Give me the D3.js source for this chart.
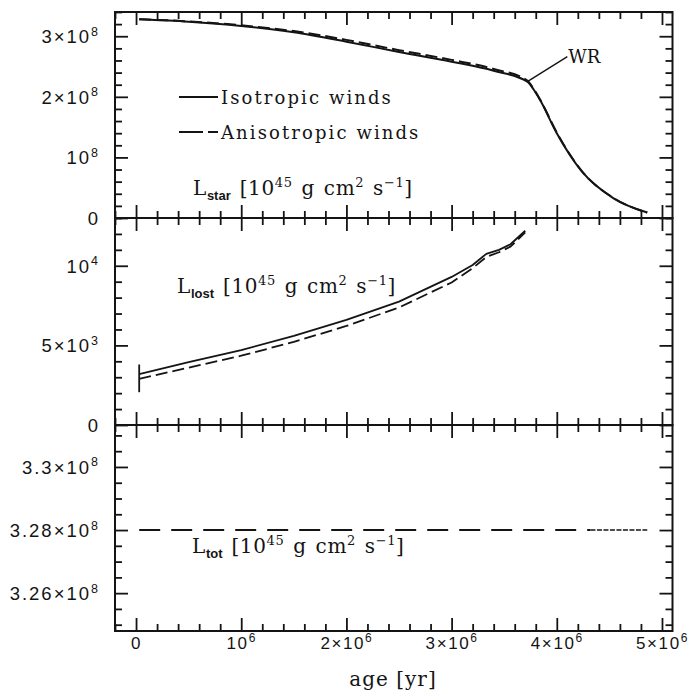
<!DOCTYPE html>
<html>
<head>
<meta charset="utf-8">
<script src="https://cdn.jsdelivr.net/npm/d3@7"></script>
<style>
body { margin: 0; background: #fff; }
</style>
</head>
<body>
<div id="chart"></div>
<script>
// ---- data (age in yr) ----
const starAge = [0.03e6, 0.5e6, 1.0e6, 1.5e6, 2.0e6, 2.5e6, 3.0e6, 3.4e6, 3.72e6, 3.78e6, 3.84e6, 4.0e6, 4.24e6, 4.54e6, 4.86e6];
const starIso = [3.28e8, 3.24e8, 3.17e8, 3.065e8, 2.91e8, 2.74e8, 2.58e8, 2.43e8, 2.25e8, 2.12e8, 1.95e8, 1.40e8, 0.765e8, 0.325e8, 0.09e8];
const starAniso = [3.28e8, 3.245e8, 3.18e8, 3.085e8, 2.94e8, 2.77e8, 2.61e8, 2.46e8, 2.27e8, 2.13e8, 1.96e8, 1.41e8, 0.77e8, 0.33e8, 0.09e8];

const lostAge = [0.03e6, 0.5e6, 1.0e6, 1.5e6, 2.0e6, 2.5e6, 3.0e6, 3.2e6, 3.33e6, 3.45e6, 3.56e6, 3.7e6];
const lostIso = [3.19e3, 3.95e3, 4.7e3, 5.6e3, 6.6e3, 7.75e3, 9.3e3, 10.05e3, 10.75e3, 11.0e3, 11.35e3, 12.2e3];
const lostAniso = [2.9e3, 3.6e3, 4.35e3, 5.22e3, 6.22e3, 7.38e3, 8.95e3, 9.85e3, 10.55e3, 10.85e3, 11.2e3, 12.1e3];
const lostSpikeAge = [0.03e6, 0.03e6];
const lostSpike = [3.8e3, 2.06e3];

const totAge = [0.03e6, 4.32e6];
const totTailAge = [4.32e6, 4.86e6];
const totValue = 3.28e8;

const wrPoint = [3.72e6, 2.25e8];

const xTicks = [0, 1e6, 2e6, 3e6, 4e6, 5e6];
const xTickLabels = ["0", "10^{6}", "2×10^{6}", "3×10^{6}", "4×10^{6}", "5×10^{6}"];
const topTicks = [0, 1e8, 2e8, 3e8];
const topTickLabels = ["0", "10^{8}", "2×10^{8}", "3×10^{8}"];
const midTicks = [0, 5e3, 1e4];
const midTickLabels = ["0", "5×10^{3}", "10^{4}"];
const botTicks = [3.26e8, 3.28e8, 3.3e8];
const botTickLabels = ["3.26×10^{8}", "3.28×10^{8}", "3.3×10^{8}"];

const seriesNames = ["Isotropic winds", "Anisotropic winds"];
const topLabel = "L_{star} [10^{45} g cm^{2} s^{−1}]";
const midLabel = "L_{lost} [10^{45} g cm^{2} s^{−1}]";
const botLabel = "L_{tot} [10^{45} g cm^{2} s^{−1}]";

// ---- layout ----
const width = 693, height = 694;
const left = 115, right = 672.5;
const ink = "#141414";
const serif = "DejaVu Serif";
const sans = "Liberation Sans";

const svg = d3.select("#chart").append("svg")
  .attr("width", width).attr("height", height)
  .attr("viewBox", [0, 0, width, height]);

const x = d3.scaleLinear().domain([-0.2e6, 5.1e6]).range([left, right]);
const xMinor = d3.range(-0.2e6, 5.1e6 + 1, 0.2e6);

const panels = [
  { top: 12, bottom: 218, y: d3.scaleLinear().domain([0, 3.4e8]).range([218, 12]),
    ticks: topTicks, labels: topTickLabels, minor: d3.range(0, 3.4e8 + 1, 0.2e8) },
  { top: 218, bottom: 425, y: d3.scaleLinear().domain([0, 1.3e4]).range([425, 218]),
    ticks: midTicks, labels: midTickLabels, minor: d3.range(0, 1.3e4 + 1, 1e3) },
  { top: 425, bottom: 631, y: d3.scaleLinear().domain([3.248e8, 3.3133e8]).range([631, 425]),
    ticks: botTicks, labels: botTickLabels, minor: d3.range(3.25e8, 3.3133e8, 0.005e8) }
];

// text with ^{sup} and _{sub}; o.base shifts the whole run vertically (px)
function rich(text, str, o) {
  const parts = str.split(/(\^\{[^}]*\}|_\{[^}]*\})/).filter(s => s.length);
  let cur = -(o.base || 0);
  text.text(null).attr("dy", null).style("white-space", "pre");
  parts.forEach(p => {
    let off = 0, t = p;
    const ts = text.append("tspan");
    if (p[0] === "^") {
      off = -o.rise; t = p.slice(2, -1);
      ts.attr("font-size", o.supSize);
    } else if (p[0] === "_") {
      off = o.drop; t = p.slice(2, -1);
      ts.attr("font-size", o.subSize).attr("font-family", sans).attr("font-weight", "bold")
        .attr("letter-spacing", 0);
    }
    ts.attr("dy", off - cur).text(t);
    cur = off;
  });
}

function styleAxis(g) {
  g.select(".domain").remove();
  g.selectAll(".tick line").attr("stroke", ink).attr("stroke-width", 1.8);
}

panels.forEach((p, i) => {
  const pg = svg.append("g");
  const yMinor = p.minor.filter(v => !p.ticks.some(t => Math.abs(t - v) < 1));
  const xMin = xMinor.filter(v => !xTicks.some(t => Math.abs(t - v) < 1));
  const isLast = i === panels.length - 1;

  // left, with labels
  pg.append("g").attr("transform", `translate(${left},0)`)
    .call(d3.axisLeft(p.y).tickValues(p.ticks).tickSize(-13).tickPadding(15).tickFormat((d, k) => p.labels[k]))
    .call(styleAxis)
    .call(a => a.selectAll(".tick text")
      .attr("font-family", sans).attr("font-size", 18.5).attr("fill", ink)
      .attr("letter-spacing", 2)
      .each(function(d, k) {
        rich(d3.select(this), p.labels[k], { supSize: 12.5, rise: 7.5, base: 6.5 });
      }));
  pg.append("g").attr("transform", `translate(${left},0)`)
    .call(d3.axisLeft(p.y).tickValues(yMinor).tickSize(-7).tickFormat(""))
    .call(styleAxis);
  // right
  pg.append("g").attr("transform", `translate(${right},0)`)
    .call(d3.axisRight(p.y).tickValues(p.ticks).tickSize(-13).tickFormat(""))
    .call(styleAxis);
  pg.append("g").attr("transform", `translate(${right},0)`)
    .call(d3.axisRight(p.y).tickValues(yMinor).tickSize(-7).tickFormat(""))
    .call(styleAxis);
  // top
  pg.append("g").attr("transform", `translate(0,${p.top})`)
    .call(d3.axisTop(x).tickValues(xTicks).tickSize(-13).tickFormat(""))
    .call(styleAxis);
  pg.append("g").attr("transform", `translate(0,${p.top})`)
    .call(d3.axisTop(x).tickValues(xMin).tickSize(-7).tickFormat(""))
    .call(styleAxis);
  // bottom
  pg.append("g").attr("transform", `translate(0,${p.bottom})`)
    .call(d3.axisBottom(x).tickValues(xTicks).tickSize(-13).tickPadding(5)
      .tickFormat(isLast ? (d, k) => xTickLabels[k] : ""))
    .call(styleAxis)
    .call(a => {
      if (!isLast) return;
      a.selectAll(".tick text")
        .attr("font-family", sans).attr("font-size", 17).attr("fill", ink)
        .attr("letter-spacing", 1.6)
        .each(function(d, k) {
          rich(d3.select(this), xTickLabels[k], { supSize: 12, rise: 7, base: 12.5 });
        });
    });
  pg.append("g").attr("transform", `translate(0,${p.bottom})`)
    .call(d3.axisBottom(x).tickValues(xMin).tickSize(-7).tickFormat(""))
    .call(styleAxis);

  // frame
  pg.append("rect")
    .attr("x", left).attr("y", p.top)
    .attr("width", right - left).attr("height", p.bottom - p.top)
    .attr("fill", "none").attr("stroke", ink).attr("stroke-width", 2);
});

// ---- curves ----
const [pTop, pMid, pBot] = panels;

function drawLine(ages, vals, y, dash, sw, curve) {
  const line = d3.line()
    .x((d, i) => x(ages[i]))
    .y(d => y(d))
    .curve(curve);
  svg.append("path")
    .datum(vals)
    .attr("fill", "none")
    .attr("stroke", ink)
    .attr("stroke-width", sw)
    .attr("stroke-dasharray", dash)
    .attr("stroke-linejoin", "round")
    .attr("d", line);
}

drawLine(starAge, starIso, pTop.y, null, 2, d3.curveMonotoneX);
drawLine(starAge, starAniso, pTop.y, "12,5", 2, d3.curveMonotoneX);

drawLine(lostSpikeAge, lostSpike, pMid.y, null, 1.8, d3.curveLinear);
drawLine(lostAge, lostIso, pMid.y, null, 1.8, d3.curveLinear);
drawLine(lostAge, lostAniso, pMid.y, "12,5", 1.8, d3.curveLinear);

drawLine(totAge, totAge.map(() => totValue), pBot.y, "21,11", 2, d3.curveLinear);
drawLine(totTailAge, totTailAge.map(() => totValue), pBot.y, "5,1.5", 1.6, d3.curveLinear);

// WR annotation
const wx = x(wrPoint[0]), wy = pTop.y(wrPoint[1]);
svg.append("line")
  .attr("x1", wx).attr("y1", wy).attr("x2", wx + 40).attr("y2", wy - 25)
  .attr("stroke", ink).attr("stroke-width", 1.4);
svg.append("text")
  .attr("x", wx + 41).attr("y", wy - 18.5)
  .attr("font-family", serif).attr("font-size", 18).attr("fill", ink)
  .text("WR");

// legend
const legend = svg.append("g").attr("transform", "translate(179,97)");
seriesNames.forEach((name, i) => {
  const row = legend.append("g").attr("transform", `translate(0,${i * 35})`);
  row.append("line")
    .attr("x1", 0).attr("x2", 39).attr("y1", 0).attr("y2", 0)
    .attr("stroke", ink).attr("stroke-width", 1.8)
    .attr("stroke-dasharray", i === 0 ? null : "24,5");
  row.append("text")
    .attr("x", 42).attr("y", 6.5)
    .attr("font-family", serif).attr("font-size", 18).attr("fill", ink)
    .attr("letter-spacing", 2.1)
    .text(name);
});

// panel labels
const labelStyle = { supSize: 13, rise: 8, subSize: 13, drop: 5 };
[[topLabel, 193, 195], [midLabel, 177, 293], [botLabel, 192, 553]].forEach(([s, lx, ly]) => {
  const t = svg.append("text")
    .attr("x", lx).attr("y", ly)
    .attr("font-family", serif).attr("font-size", 20).attr("fill", ink)
    .attr("letter-spacing", 0.6).attr("word-spacing", 2);
  rich(t, s, labelStyle);
});

// x axis title
svg.append("text")
  .attr("x", 393).attr("y", 686)
  .attr("text-anchor", "middle")
  .attr("font-family", serif).attr("font-size", 20).attr("fill", ink)
  .attr("letter-spacing", 1)
  .text("age [yr]");
</script>
</body>
</html>
